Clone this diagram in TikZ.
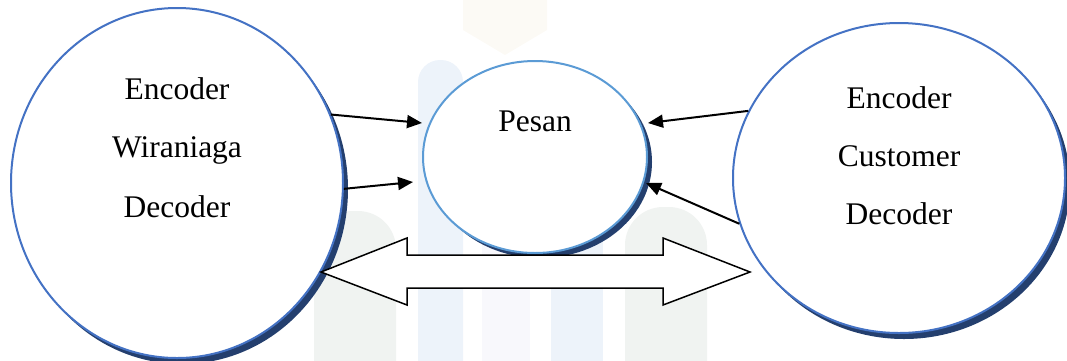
\documentclass[tikz,border=0pt]{standalone}
\usepackage{fontspec}
\setmainfont{Liberation Serif}
\usetikzlibrary{shapes.geometric,arrows.meta}
\definecolor{circblue}{HTML}{4472C4}
\definecolor{msgblue}{HTML}{5B9BD5}
\definecolor{shadenavy}{HTML}{243F6E}
\definecolor{wmgreen}{HTML}{F0F3F1}
\definecolor{wmblue}{HTML}{EDF3FA}
\definecolor{wmlilac}{HTML}{F8F8FC}
\definecolor{wmsand}{HTML}{FCFAF5}
\begin{document}
\begin{tikzpicture}[x=1pt,y=-1pt,
  party/.style={ellipse, draw=circblue, line width=2pt, fill=white, inner sep=0pt},
  message/.style={party, draw=msgblue},
  shade/.style={fill=shadenavy},
  caption/.style={font=\fontsize{31.5}{38}\selectfont, anchor=base, inner sep=0pt},
  flowline/.style={line width=2pt, -{Triangle[length=15pt,width=13pt]}},
  exchange/.style={draw=black, line width=1.5pt, fill=white, line join=miter},
]
\useasboundingbox (0,0) rectangle (1067,360);

% faint background emblem
\fill[wmsand] (463,0) -- (463,30) -- (505,55) -- (547,30) -- (547,0) -- cycle;
\fill[wmgreen, rounded corners=38pt] (314,211) rectangle (396,420);
\fill[wmblue, rounded corners=22pt] (418,60) rectangle (463,420);
\fill[wmlilac] (482,150) rectangle (530,420);
\fill[wmblue] (551,150) rectangle (603,420);
\fill[wmgreen, rounded corners=38pt] (625,207) rectangle (707,420);

% dark shadows behind the ellipses
\fill[shade] (182,189) ellipse [x radius=166, y radius=175];
\fill[shade] (904,184) ellipse [x radius=166, y radius=155];
\fill[shade] (540,162) ellipse [x radius=112, y radius=96];

% the two parties and the message
\node[party, minimum width=332pt, minimum height=350pt] (wir) at (177,183) {};
\node[party, minimum width=332pt, minimum height=310pt] (cus) at (899,178) {};
\node[message, minimum width=224pt, minimum height=192pt] (pesan) at (535,157) {};

\node[caption] (wirA) at (177,99) {Encoder};
\node[caption] (wirB) at (177,157) {Wiraniaga};
\node[caption] (wirC) at (177,217) {Decoder};
\node[caption] (cusA) at (899,108) {Encoder};
\node[caption] (cusB) at (899,166) {Customer};
\node[caption] (cusC) at (899,224) {Decoder};
\node[caption] (pesanT) at (535,131) {Pesan};

% message flows
\coordinate (t1) at (422,123);
\coordinate (t2) at (413,182);
\coordinate (t3) at (648,123);
\coordinate (t4) at (646,183);
\draw[flowline] (wir.24) -- (t1);
\draw[flowline] (wir.-2.4) -- (t2);
\draw[flowline] (cus.156.6) -- (t3);
\draw[flowline] (cus.196) -- (t4);

% two-way exchange arrow
\draw[exchange] (321,272) -- (407,238) -- (407,255) -- (663,255) -- (663,238)
  -- (750,272) -- (663,305) -- (663,288) -- (407,288) -- (407,305) -- cycle;
\end{tikzpicture}
\end{document}
